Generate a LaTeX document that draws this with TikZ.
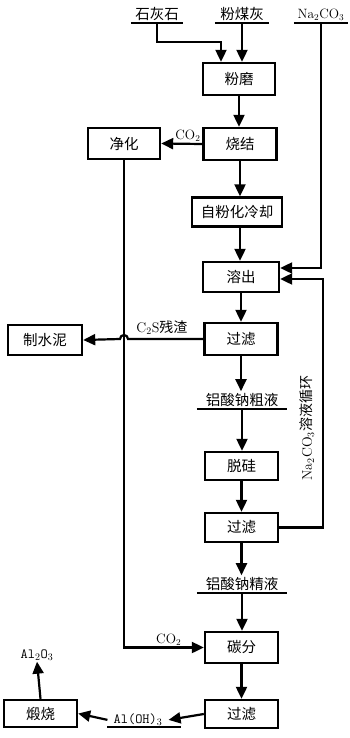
\documentclass[tikz,border=0pt]{standalone}
\usepackage{fontspec}
\newfontfamily\cjk{Noto Sans CJK SC}
\usetikzlibrary{arrows.meta,positioning,calc}
\tikzset{
  >={Triangle[length=12pt,width=11pt]},
  every node/.style={font=\cjk\fontsize{14.5}{16}\selectfont},
  blk/.style={draw=black,line width=2.4pt,fill=white,align=center,inner sep=1pt,minimum width=73pt,minimum height=30pt},
  feed/.style={anchor=south,inner sep=2pt},
  chem/.style={font=\rmfamily\fontsize{13.5}{15}\selectfont,inner sep=1pt},
  mono/.style={font=\ttfamily\fontsize{14}{15}\selectfont,inner sep=1pt},
  flow/.style={->,line width=2.2pt},
  uline/.style={line width=2.2pt},
}

\begin{document}
\begin{tikzpicture}[x=1pt,y=1pt]
  \useasboundingbox (0,0) rectangle (350,-738);

  % ---------------- raw materials
  \node[feed,minimum width=52pt] (lime) at (157,-23) {石灰石};
  \node[feed,minimum width=54pt] (ash)  at (242,-23) {粉煤灰};
  \node[feed,chem,minimum width=54pt,inner sep=2pt] (soda) at (321,-23) {Na$_2$CO$_3$};
  \draw[uline] (lime.south west) -- (lime.south east);
  \draw[uline] (ash.south west) -- (ash.south east);
  \draw[uline] (soda.south west) -- (soda.south east);

  % ---------------- main column
  \node[blk,minimum width=72pt,minimum height=32pt] (mill)   at (239,-79)   {粉磨};
  \node[blk,minimum height=32pt]                    (sinter) at (240,-144)  {烧结};
  \node[blk,minimum width=90pt,minimum height=29pt] (cool)   at (237,-212)  {自粉化冷却};
  \node[blk,minimum width=76pt]                     (leach)  at (241,-277)  {溶出};
  \node[blk,minimum height=32pt]                    (filtA)  at (241,-339)  {过滤};
  \node[feed,minimum width=90pt]                    (crude)  at (242,-409)  {铝酸钠粗液};
  \node[blk,minimum height=28pt]                    (desil)  at (241.5,-466) {脱硅};
  \node[blk,minimum height=29pt]                    (filtB)  at (241.5,-527.5) {过滤};
  \node[feed,minimum width=90pt]                    (fine)   at (242,-593)  {铝酸钠精液};
  \node[blk,minimum height=31pt]                    (carb)   at (241.5,-647.5) {碳分};
  \node[blk,minimum height=28pt]                    (filtC)  at (241.5,-714) {过滤};
  \draw[uline] (crude.south west) -- (crude.south east);
  \draw[uline] (fine.south west) -- (fine.south east);

  % ---------------- side boxes
  \node[blk,minimum width=72pt,minimum height=31pt] (purify) at (124,-143.5) {净化};
  \node[blk,minimum width=74pt]                     (cement) at (45,-340)    {制水泥};
  \node[blk,minimum height=27pt]                    (calc)   at (40.5,-713.5) {煅烧};
  \node[feed,mono,inner xsep=6pt] (aloh)  at (138,-727) {Al(OH)$_3$};
  \node[mono] (alox) at (37,-655) {Al$_2$O$_3$};
  \draw[uline] (aloh.south west) -- ([xshift=12pt]aloh.south east);

  % ---------------- feeds -> mill
  \draw[flow] (lime.south) -- ++(0,-19) -| ([xshift=-18pt]mill.north);
  \draw[flow] (ash.south) -- (ash.south |- mill.north);

  % ---------------- main flow
  \draw[flow] (mill.south) -- (mill.south |- sinter.north);
  \draw[flow] (sinter.south) -- (sinter.south |- cool.north);
  \draw[flow] (sinter.south |- cool.south) -- (sinter.south |- leach.north);
  \draw[flow] (leach.south) -- (leach.south |- filtA.north);
  \draw[flow] (filtA.south) -- (filtA.south |- crude.north);
  \draw[flow] (crude.south) -- (crude.south |- desil.north);
  \draw[flow] (desil.south) -- (filtB.north);
  \draw[flow] (filtB.south) -- (filtB.south |- fine.north);
  \draw[flow] (fine.south) -- (fine.south |- carb.north);
  \draw[flow] (carb.south) -- (filtC.north);

  % ---------------- CO2 loop
  \draw[flow] (sinter.west) -- node[chem,above,pos=0.35] {CO$_2$} (purify.east);
  \draw[flow] (purify.south) |- node[chem,above,pos=0.78] {CO$_2$} (carb.west);

  % ---------------- soda and recycle
  \draw[flow] (soda.south) |- ([yshift=9pt]leach.east);
  \draw[flow] (filtB.east) -- ++(44,0) coordinate (rec) |- ([yshift=-2pt]leach.east);
  \node[rotate=90,font=\cjk\fontsize{14}{15}\selectfont] (recLbl) at (307,-428) {\rmfamily Na$_2$CO$_3$\cjk 溶液循环};

  % ---------------- residue with hop over the CO2 line
  \coordinate (hop) at (purify.south |- filtA.west);
  \draw[flow] (filtA.west) -- node[above,pos=0.55,font=\cjk\fontsize{14}{15}\selectfont] {\rmfamily C$_2$S\cjk 残渣} ([xshift=4pt]hop)
    arc[start angle=0,end angle=180,radius=4pt] -- (cement.east);

  % ---------------- product
  \draw[flow] (filtC.west) -- (aloh.east);
  \draw[flow] (aloh.west) -- (calc.east);
  \draw[flow] (calc.north) -- (alox.south);
\end{tikzpicture}
\end{document}
